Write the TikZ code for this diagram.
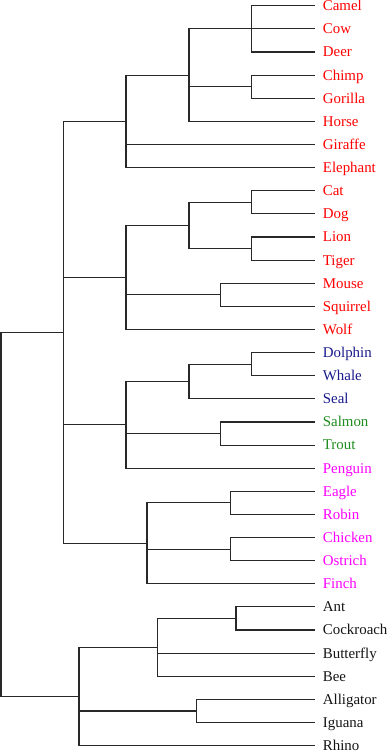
\documentclass[tikz,border=0pt]{standalone}
\usepackage{fontspec}
\setmainfont{Liberation Serif}
\definecolor{cred}{RGB}{255,0,0}
\definecolor{cblue}{RGB}{26,26,140}
\definecolor{cgreen}{RGB}{30,140,30}
\definecolor{cmag}{RGB}{255,0,255}
\definecolor{cblk}{RGB}{20,20,20}
\definecolor{edgec}{RGB}{40,40,40}
\tikzset{
  lab/.style={anchor=base west, inner sep=0pt, font=\fontsize{14.9}{16}\selectfont},
  edge/.style={draw=edgec, line width=1.1pt}
}
\newcommand{\ly}[1]{5.8+23.12*#1}
\begin{document}
\begin{tikzpicture}[x=1pt,y=-1pt]
\useasboundingbox (0,0) rectangle (389,753);
% leaves
\foreach \n/\c [count=\i from 0] in {Camel/cred,Cow/cred,Deer/cred,Chimp/cred,Gorilla/cred,Horse/cred,Giraffe/cred,Elephant/cred,Cat/cred,Dog/cred,Lion/cred,Tiger/cred,Mouse/cred,Squirrel/cred,Wolf/cred,Dolphin/cblue,Whale/cblue,Seal/cblue,Salmon/cgreen,Trout/cgreen,Penguin/cmag,Eagle/cmag,Robin/cmag,Chicken/cmag,Ostrich/cmag,Finch/cmag,Ant/cblk,Cockroach/cblk,Butterfly/cblk,Bee/cblk,Alligator/cblk,Iguana/cblk,Rhino/cblk}{
  \coordinate (L\i) at (315,{\ly{\i}});
  \node[lab, text=\c] (T\i) at ([xshift=7.7pt,yshift=-4.9pt]L\i) {\n};
}
% internal nodes (y = midpoint of outermost children)
\coordinate (n1) at (251.7,{\ly{1}});
\coordinate (n2) at (251.7,{\ly{3.5}});
\coordinate (n3) at (189,{\ly{3}});
\coordinate (n4) at (126,{\ly{5}});
\coordinate (n5) at (251.7,{\ly{8.5}});
\coordinate (n6) at (251.7,{\ly{10.5}});
\coordinate (n7) at (189,{\ly{9.5}});
\coordinate (n8) at (220.3,{\ly{12.5}});
\coordinate (n9) at (126,{\ly{11.75}});
\coordinate (n10) at (251.7,{\ly{15.5}});
\coordinate (n11) at (189,{\ly{16.25}});
\coordinate (n12) at (220.3,{\ly{18.5}});
\coordinate (n13) at (126,{\ly{18.125}});
\coordinate (n14) at (230.7,{\ly{21.5}});
\coordinate (n15) at (230.7,{\ly{23.5}});
\coordinate (n16) at (147,{\ly{23.25}});
\coordinate (n17) at (63.3,{\ly{14.125}});
\coordinate (n18) at (236,{\ly{26.5}});
\coordinate (n19) at (157.7,{\ly{27.75}});
\coordinate (n20) at (196.7,{\ly{30.5}});
\coordinate (n21) at (79,{\ly{29.875}});
\coordinate (n22) at (1,{\ly{22}});
% edges
\foreach \p/\kids in {n1/{L0,L1,L2},n2/{L3,L4},n3/{n1,n2,L5},n4/{n3,L6,L7},
  n5/{L8,L9},n6/{L10,L11},n7/{n5,n6},n8/{L12,L13},n9/{n7,n8,L14},
  n10/{L15,L16},n11/{n10,L17},n12/{L18,L19},n13/{n11,n12,L20},
  n14/{L21,L22},n15/{L23,L24},n16/{n14,n15,L25},n17/{n4,n9,n13,n16},
  n18/{L26,L27},n19/{n18,L28,L29},n20/{L30,L31},n21/{n19,n20,L32},n22/{n17,n21}}{
  \foreach \k in \kids { \draw[edge] (\p) |- (\k); }
}
\end{tikzpicture}
\end{document}
